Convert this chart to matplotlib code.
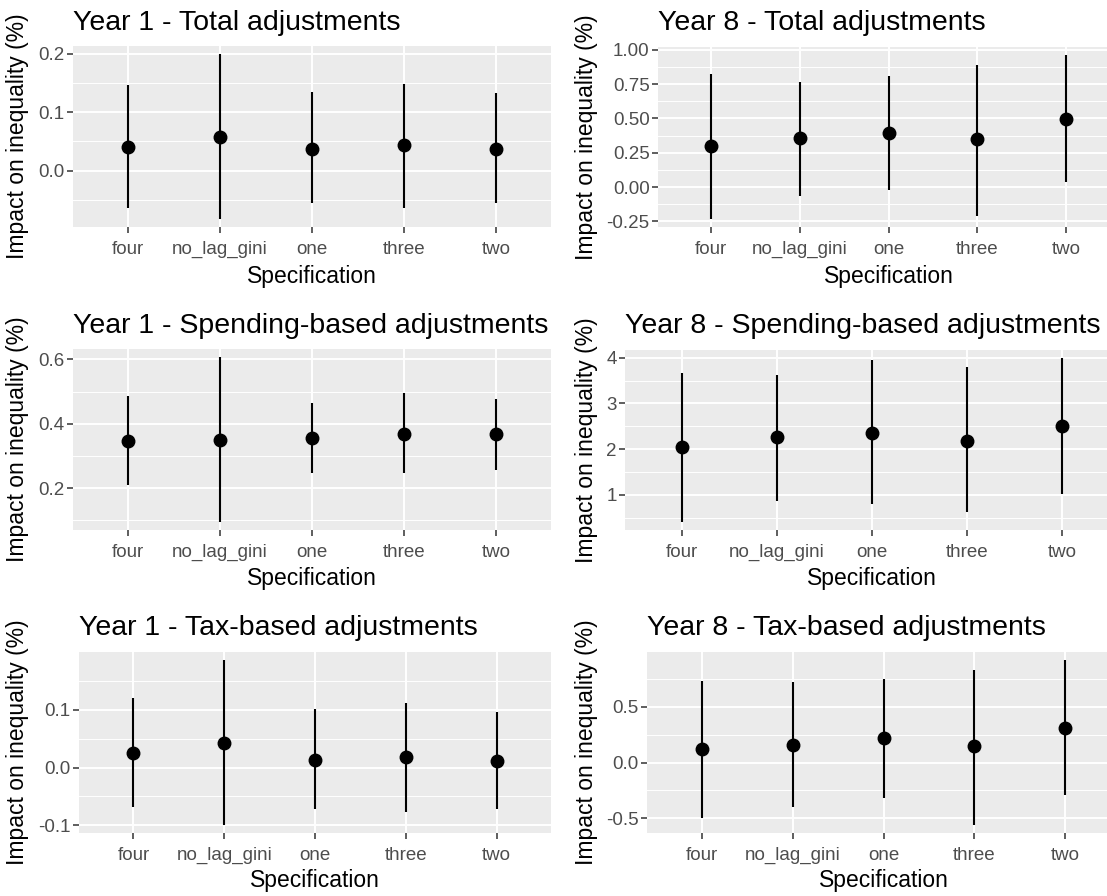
import matplotlib
matplotlib.use("Agg")
import matplotlib.pyplot as plt
from matplotlib.ticker import FixedLocator
import numpy as np

plt.rcParams['font.family'] = ['Liberation Sans', 'DejaVu Sans']
plt.rcParams['axes.unicode_minus'] = False

specs = ["four", "no_lag_gini", "one", "three", "two"]

titles = ["Year 1 - Total adjustments", "Year 8 - Total adjustments",
          "Year 1 - Spending-based adjustments", "Year 8 - Spending-based adjustments",
          "Year 1 - Tax-based adjustments", "Year 8 - Tax-based adjustments"]

# point estimates and confidence bounds, one list per panel
y1_total_est = [0.041, 0.057, 0.038, 0.044, 0.038]
y1_total_lo = [-0.064, -0.082, -0.055, -0.063, -0.055]
y1_total_hi = [0.146, 0.199, 0.134, 0.148, 0.132]

y8_total_est = [0.300, 0.360, 0.394, 0.348, 0.494]
y8_total_lo = [-0.231, -0.063, -0.019, -0.209, 0.038]
y8_total_hi = [0.822, 0.764, 0.810, 0.893, 0.961]

y1_spend_est = [0.345, 0.349, 0.355, 0.369, 0.369]
y1_spend_lo = [0.208, 0.095, 0.247, 0.247, 0.255]
y1_spend_hi = [0.485, 0.607, 0.466, 0.495, 0.476]

y8_spend_est = [2.05, 2.27, 2.35, 2.18, 2.50]
y8_spend_lo = [0.41, 0.86, 0.79, 0.62, 1.02]
y8_spend_hi = [3.66, 3.63, 3.96, 3.79, 3.99]

y1_tax_est = [0.026, 0.042, 0.014, 0.018, 0.012]
y1_tax_lo = [-0.069, -0.099, -0.072, -0.077, -0.072]
y1_tax_hi = [0.120, 0.186, 0.101, 0.112, 0.096]

y8_tax_est = [0.119, 0.160, 0.220, 0.147, 0.315]
y8_tax_lo = [-0.500, -0.400, -0.318, -0.558, -0.290]
y8_tax_hi = [0.736, 0.724, 0.750, 0.832, 0.920]

yticks = [[0.0, 0.1, 0.2], [-0.25, 0.0, 0.25, 0.5, 0.75, 1.0],
          [0.2, 0.4, 0.6], [1, 2, 3, 4],
          [-0.1, 0.0, 0.1], [-0.5, 0.0, 0.5]]
ytick_labels = [["0.0", "0.1", "0.2"], ["-0.25", "0.00", "0.25", "0.50", "0.75", "1.00"],
                ["0.2", "0.4", "0.6"], ["1", "2", "3", "4"],
                ["-0.1", "0.0", "0.1"], ["-0.5", "0.0", "0.5"]]

panels = [(y1_total_est, y1_total_lo, y1_total_hi),
          (y8_total_est, y8_total_lo, y8_total_hi),
          (y1_spend_est, y1_spend_lo, y1_spend_hi),
          (y8_spend_est, y8_spend_lo, y8_spend_hi),
          (y1_tax_est, y1_tax_lo, y1_tax_hi),
          (y8_tax_est, y8_tax_lo, y8_tax_hi)]

W, H = 1107, 896
# panel boxes in pixels: left, top, right, bottom
boxes = [(73, 46, 551, 227), (658, 47, 1119, 227),
         (73, 349, 551, 530), (625, 350, 1119, 530),
         (79, 652, 551, 833), (647, 652, 1120, 833)]
title_base = [30, 30, 333, 333, 635, 635]
xlab_base = [283, 283, 585, 585, 887, 887]
ylab_x = [18, 587, 18, 587, 18, 587]

fig = plt.figure(figsize=(W / 100, H / 100), dpi=100)

x = np.arange(1, len(specs) + 1)
for i, (est, lo, hi) in enumerate(panels):
    l, t, r, b = boxes[i]
    ax = fig.add_axes([l / W, 1 - b / H, (r - l) / W, (b - t) / H])
    ax.set_facecolor('#EBEBEB')
    for s in ax.spines.values():
        s.set_visible(False)

    ax.vlines(x, lo, hi, color='black', lw=1.5, zorder=3)
    ax.plot(x, est, 'o', color='black', ms=9, zorder=4)

    rng = max(hi) - min(lo)
    ax.set_ylim(min(lo) - 0.05 * rng, max(hi) + 0.05 * rng)
    ax.set_xlim(0.4, len(specs) + 0.6)

    ax.set_xticks(x)
    ax.set_xticklabels(specs)
    ax.set_yticks(yticks[i])
    ax.set_yticklabels(ytick_labels[i])
    step = yticks[i][1] - yticks[i][0]
    minors = np.arange(yticks[i][0] - step * 2.5, yticks[i][-1] + step * 3, step)
    ax.yaxis.set_minor_locator(FixedLocator(minors))

    ax.grid(True, which='major', color='white', lw=1.4)
    ax.grid(True, which='minor', axis='y', color='white', lw=0.7)
    ax.set_axisbelow(True)

    ax.tick_params(axis='both', which='major', length=4, width=1.1,
                   color='#333333', labelcolor='#4D4D4D', labelsize=13.5)
    ax.tick_params(axis='y', which='major', pad=2)
    ax.tick_params(axis='x', which='major', pad=6)
    ax.tick_params(axis='y', which='minor', length=0)

    fig.text(l / W, 1 - title_base[i] / H, titles[i], fontsize=20.5,
             ha='left', va='baseline', color='black')
    fig.text((l + min(r, W)) / 2 / W if r <= W else (l + r) / 2 / W,
             1 - xlab_base[i] / H, "Specification", fontsize=16.5,
             ha='center', va='baseline', color='black')
    fig.text(ylab_x[i] / W, 1 - (t + b) / 2 / H, "Impact on inequality (%)",
             fontsize=16.5, rotation=90, ha='center', va='center', color='black')

fig.savefig("out.png", dpi=100, facecolor='white')
